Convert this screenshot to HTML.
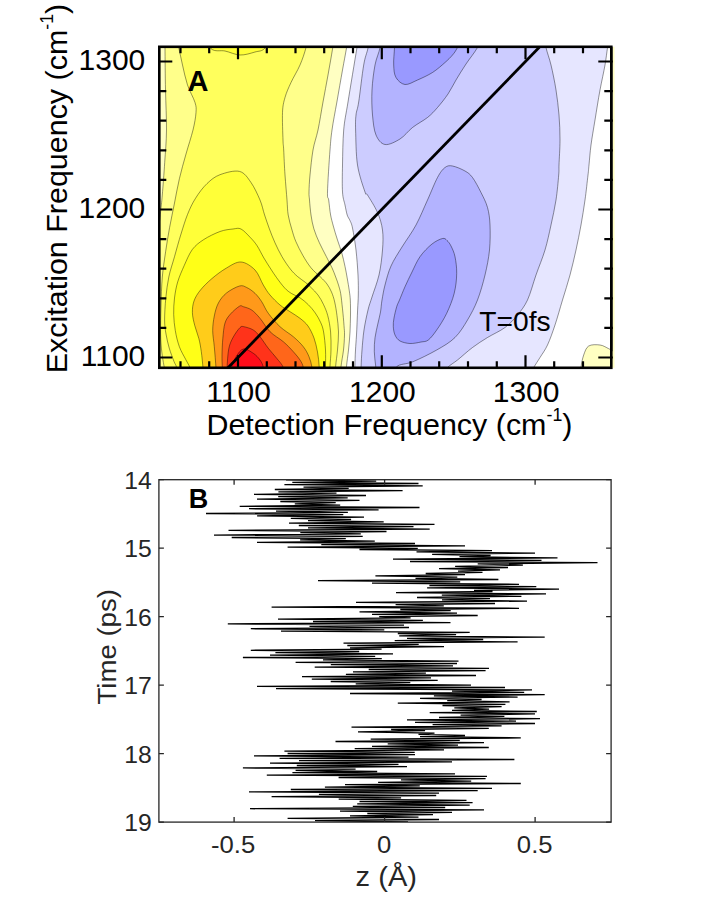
<!DOCTYPE html>
<html><head><meta charset="utf-8"><title>Figure</title>
<style>html,body{margin:0;padding:0;background:#fff}svg{display:block}</style>
</head><body>
<svg width="720" height="905" viewBox="0 0 720 905">
<defs><clipPath id="ca"><rect x="159.3" y="46.8" width="455.2" height="321"/></clipPath><clipPath id="cb"><rect x="159" y="480" width="452" height="342"/></clipPath></defs>
<rect width="720" height="905" fill="#fff"/>
<g clip-path="url(#ca)" stroke="#000" stroke-opacity="0.72" stroke-width="0.58" stroke-linejoin="round">
<rect x="150" y="40" width="470" height="335" fill="#fff" stroke="none"/>
<path d="M140 30 L140 380 L346 380 C346.1 377.8 346.1 371.7 346.5 366.7 C346.9 361.7 347.9 355.8 348.5 350 C349.1 344.2 349.7 337.8 350 332 C350.3 326.2 350.4 320.3 350.5 315 C350.6 309.7 350.5 304 350.3 300 C350.1 296 349.8 294.5 349.3 290.8 C348.8 287.1 347.9 282.1 347.2 278 C346.5 273.9 345.9 270.6 345 266.4 C344.1 262.1 342.9 256.9 341.7 252.5 C340.4 248.1 338.9 244.4 337.5 240 C336.1 235.6 334.4 230.2 333.3 226 C332.2 221.8 331.4 219.3 330.6 215 C329.8 210.7 329.2 203.8 328.7 200 C328.2 196.2 327.3 200.3 327.5 192 C327.7 183.7 329.2 160.3 330 150 C330.8 139.7 330.9 138 332 130 C333.1 122 335.1 112 336.9 102 C338.6 92 340.9 79 342.5 70 C344.1 61 345.4 54.7 346.5 48 C347.6 41.3 348.6 33 349 30 Z" fill="#FFFFC2"/>
<path d="M165 30 C165 32.9 164.9 37.5 165 47.5 C165.1 57.5 165.2 76.2 165.5 90 C165.8 103.8 166.6 117.9 166.5 130 C166.4 142.1 165.4 151.7 164.7 162.5 C164 173.3 163 186.9 162.3 195 C161.6 203.1 161.2 206 160.7 211 C160.1 216 159.8 219.3 159 225 C158.2 230.7 157.5 239.2 156 245 C154.5 250.8 151 257.5 150 260 L150 380 L340.5 380 C340.6 377.8 340.5 371.7 341 366.7 C341.5 361.7 342.9 355.3 343.5 350 C344.1 344.7 344.4 339.1 344.5 335 C344.6 330.9 344.3 330 344 325.6 C343.7 321.2 343.1 314.2 342.5 308.9 C341.9 303.6 341.4 297.6 340.7 293.6 C340 289.6 339.3 287.8 338.5 285 C337.7 282.2 336.8 279.9 335.7 277 C334.6 274.1 333.6 271.2 332 267.8 C330.4 264.4 328.5 260.9 326.4 256.7 C324.3 252.5 321.5 247.4 319.4 242.8 C317.3 238.2 315.3 233.5 313.9 228.9 C312.5 224.3 311.7 219.8 311 215 C310.3 210.2 309.8 203.8 309.5 200 C309.2 196.2 308.9 196.2 309 192 C309.1 187.8 309.3 182 310 175 C310.7 168 311.7 157.5 313 150 C314.3 142.5 316.3 138 318 130 C319.7 122 321.3 111.2 323 102 C324.7 92.8 326.4 84 328 75 C329.6 66 331.5 55.5 332.7 48 C333.9 40.5 334.6 33 335 30 Z" fill="#FFFF8A"/>
<path d="M174 30 C174.8 32.9 177.3 41.7 178.7 47.5 C180.1 53.3 181 58.8 182.5 65 C184 71.2 185.4 78.8 187.5 85 C189.6 91.2 193.6 97.9 195 102.5 C196.4 107.1 196.3 107.9 196 112.5 C195.7 117.1 194.7 123.1 193 130 C191.3 136.9 188.3 145.9 186 154 C183.7 162.1 181.3 170.5 179.4 178.7 C177.5 186.9 176.1 194.9 174.5 203 C172.9 211.1 171.1 219.4 169.6 227.5 C168.1 235.6 166.8 243.6 165.6 251.8 C164.4 260.1 163.1 268 162.3 277 C161.5 286 161.3 296.5 161 306 C160.7 315.5 160.5 326.3 160.6 334 C160.7 341.7 161.2 346.7 161.8 352 C162.4 357.3 163.2 361.3 164 366 C164.8 370.7 166.1 377.7 166.5 380 L335 380 C335.1 377.8 335.2 371.7 335.6 366.7 C336 361.7 337 355.8 337.5 350 C338 344.2 338.6 337.7 338.5 332 C338.4 326.3 337.6 320.8 337 315.8 C336.4 310.8 335.6 306 334.7 302 C333.8 298 332.8 295 331.5 292 C330.2 289 328.8 286.5 327 284 C325.2 281.5 323.2 279.7 320.5 277 C317.8 274.3 313.9 271.4 311 267.8 C308.1 264.2 305.3 259.7 302.8 255.3 C300.3 250.9 297.7 245.8 295.8 241.4 C293.9 237 293 233.3 291.7 228.9 C290.4 224.5 289 219.8 288.2 215 C287.4 210.2 287.5 206.7 287 200 C286.5 193.3 285.6 183.3 285 175 C284.4 166.7 284 155.8 283.7 150 C283.4 144.2 283.2 146.2 283 140 C282.8 133.8 282.2 119.6 282.5 112.5 C282.8 105.4 283.6 102.5 285 97.5 C286.4 92.5 288.5 87.9 291 82.5 C293.5 77.1 297.5 70.8 300 65 C302.5 59.2 304.5 53.3 306 47.5 C307.5 41.7 308.5 32.9 309 30 Z" fill="#FFFF5C"/>
<path d="M200 30 C201.8 33.1 206.8 45.2 211 48.7 C215.2 52.2 220.2 50 225 51 C229.8 52 235 54.8 240 55 C245 55.2 250.8 53.2 255 52 C259.2 50.8 261.7 51.7 265 48 C268.3 44.3 273.3 33 275 30 Z" fill="#FFFF38"/>
<path d="M178.5 380 C178.2 377.8 177.2 370.1 176.4 367 C175.7 363.9 175.2 364.7 174 361.5 C172.8 358.3 170.5 352.6 169.2 348 C167.9 343.4 166.8 338.7 166 334 C165.2 329.3 164.6 326 164.6 320 C164.6 314 165.1 305.2 165.8 298 C166.5 290.8 167.4 283.9 168.8 277 C170.2 270.1 172.5 263.9 174.5 256.7 C176.5 249.5 178.8 241 181 234 C183.2 227 185.1 220.5 187.5 214.5 C189.9 208.5 192.3 203.3 195.6 198.2 C198.8 193 202.9 187.5 207 183.6 C211.1 179.7 214.6 176.7 220 174.7 C225.4 172.7 234.3 170.1 239.5 171.4 C244.7 172.7 247.6 177.7 251 182.5 C254.4 187.3 257.7 194.6 260 200 C262.3 205.4 263 210.2 264.6 215 C266.2 219.8 267.7 224.3 269.4 228.9 C271.1 233.5 272.9 238.2 275 242.8 C277.1 247.4 279.4 252.3 282 256.7 C284.6 261.1 287.7 265.7 290.3 269 C292.9 272.3 294.9 274.2 297.5 276.5 C300.1 278.8 303.4 280.7 305.6 282.5 C307.9 284.3 308.9 285.4 311 287.5 C313.1 289.6 315.9 292.1 318 295 C320.1 297.9 322 301.2 323.6 304.7 C325.2 308.2 326.6 311.2 327.8 315.8 C329 320.4 330.1 326.3 330.6 332 C331.1 337.7 331.1 344.2 331 350 C330.9 355.8 330.2 361.7 330 366.7 C329.8 371.7 329.8 377.8 329.7 380 Z" fill="#FFFF38"/>
<path d="M193 380 C192.5 378 191.2 371.4 190 368 C188.8 364.6 187.7 363.3 185.9 359.8 C184.1 356.3 181.2 351.7 179.4 346.8 C177.6 341.9 176.2 336 175.3 330.6 C174.4 325.2 173.8 319.7 173.7 314.3 C173.6 308.9 173.8 303.4 174.5 298 C175.2 292.6 176.1 287.3 177.7 281.9 C179.3 276.5 181.8 271 184.2 265.6 C186.6 260.2 189.2 253.7 192.4 249.4 C195.7 245.1 199.1 242.6 203.7 239.6 C208.3 236.6 215.1 233.3 220 231.5 C224.9 229.7 229.5 229.4 233 229 C236.5 228.6 238.2 227.6 241 229 C243.8 230.4 247.3 234.4 250 237.2 C252.7 240 254.7 242.1 257 245.6 C259.3 249.1 261.6 254.1 263.9 258 C266.2 261.9 268.7 265.8 270.8 269 C272.9 272.2 274.2 274.3 276.5 277.5 C278.8 280.7 282.2 285.3 284.7 288 C287.2 290.7 289.1 292 291.7 293.6 C294.2 295.2 297.2 296 300 297.8 C302.8 299.6 305.8 302.2 308.3 304.7 C310.9 307.2 313.2 310 315.3 313 C317.4 316 319.4 319.6 320.8 322.8 C322.2 326 322.8 327.5 323.6 332 C324.4 336.5 325.2 344.2 325.5 350 C325.8 355.8 325.5 361.7 325.5 366.7 C325.5 371.7 325.5 377.8 325.5 380 Z" fill="#FFFF17"/>
<path d="M203.5 380 C203.4 378 203.4 372.7 203 368 C202.6 363.3 202 356.6 201.3 351.7 C200.6 346.8 200 343 198.9 338.7 C197.8 334.4 195.9 330 194.8 325.7 C193.7 321.4 192.5 316.8 192.4 312.7 C192.3 308.6 192.7 304.8 194 301 C195.3 297.2 197.5 293.7 200.5 290 C203.5 286.3 207.6 282.3 211.9 278.6 C216.2 274.9 221.7 270.8 226.5 268 C231.3 265.2 236.2 261.7 241 262 C245.8 262.3 251.3 266.2 255 270 C258.7 273.8 260.8 280.8 263.3 285 C265.8 289.2 267.2 291.7 270 295 C272.8 298.3 276.7 302.2 280 305 C283.3 307.8 286.7 309.5 290 311.7 C293.3 313.9 297 315.9 300 318.3 C303 320.7 305.7 322.7 308 326 C310.3 329.3 312.4 333.7 314 338 C315.6 342.3 316.6 347.2 317.5 352 C318.4 356.8 318.9 362 319.2 366.7 C319.5 371.4 319.4 377.8 319.5 380 Z" fill="#FFCC1A"/>
<path d="M216.5 380 C216.4 378 216.4 373.5 216 368 C215.6 362.5 214.9 353 214.3 346.8 C213.8 340.6 212.7 335.7 212.7 330.6 C212.7 325.5 213.4 320.6 214.3 316 C215.2 311.4 216.4 306.8 218.4 303 C220.4 299.2 223 295.8 226.5 293 C230 290.2 236.1 286.9 239.5 286 C242.9 285.1 244.1 286.3 246.7 287.5 C249.3 288.7 252.5 290.9 255 293.3 C257.5 295.7 259.5 298.4 261.7 301.7 C263.9 305 265.2 309.1 268.3 313.3 C271.4 317.5 275.8 322.8 280 326.7 C284.2 330.6 289.4 333.4 293.3 336.7 C297.2 340 300.7 343.4 303.3 346.7 C305.9 350 307.6 353.2 309 356.7 C310.4 360.2 311.4 363.6 312 367.5 C312.6 371.4 312.4 377.9 312.5 380 Z" fill="#FF991A"/>
<path d="M222.5 380 C222.5 378 222.4 372.2 222.3 368 C222.2 363.8 221.9 359.9 222 355 C222.1 350.1 222.3 344 222.8 338.7 C223.3 333.4 223.7 327.1 225 323 C226.3 318.9 228.1 316.8 230.5 314 C232.9 311.2 237.4 307.4 239.5 306.2 C241.6 305 241.3 306.1 243.3 306.7 C245.3 307.3 248.9 308.1 251.7 310 C254.5 311.9 256.9 314.7 260 318.3 C263.1 321.9 266.1 327.8 270 331.7 C273.9 335.6 279.4 338.4 283.3 341.7 C287.2 345 290.5 348.6 293.3 351.7 C296.1 354.8 298.3 357.4 300 360 C301.7 362.6 302.6 364.2 303.3 367.5 C304 370.8 303.9 377.9 304 380 Z" fill="#FF661A"/>
<path d="M227 380 C227 378 226.7 373.2 227 368 C227.3 362.8 227.8 353.7 228.8 348.5 C229.9 343.3 231.4 340.5 233.3 337 C235.2 333.5 238.2 329.3 240 327.6 C241.8 325.9 241.6 326.3 243.8 326.7 C246 327.1 250.6 328.3 253.3 330 C256 331.7 257.5 333.6 260 336.7 C262.5 339.8 265.5 344.7 268.3 348.3 C271.1 351.9 274.2 355.1 276.7 358.3 C279.2 361.5 281.9 363.9 283.3 367.5 C284.7 371.1 284.7 377.9 285 380 Z" fill="#FF331A"/>
<path d="M231 380 C231.1 378 230.4 371.9 231.3 368 C232.2 364.1 234.2 359.8 236.2 356.6 C238.2 353.4 240.5 349.6 243.3 349 C246.2 348.4 250.5 351.5 253.3 353.3 C256.1 355.1 258.3 357.6 260 360 C261.7 362.4 262.6 364.2 263.3 367.5 C264 370.8 263.9 377.9 264 380 Z" fill="#FF0D1A"/>
<path d="M360 30 C359.5 33 358.9 36 356.9 48 C354.9 60 350.2 88.3 348 102 C345.8 115.7 344.6 119.5 343.7 130 C342.8 140.5 342.7 154.7 342.5 165 C342.3 175.3 342.1 185.3 342.5 192 C342.9 198.7 344.2 201.2 345 205 C345.8 208.8 346.4 212.4 347.2 215 C348 217.6 349.1 218.4 350 220.6 C350.9 222.8 351.5 223.1 352.5 228 C353.5 232.9 355.1 242.2 356 250 C356.9 257.8 357.6 267.5 358 275 C358.4 282.5 358.4 289.2 358.3 295 C358.2 300.8 357.9 303.3 357.6 310 C357.3 316.7 356.9 328.3 356.5 335 C356.1 341.7 355.8 344.7 355.5 350 C355.2 355.3 355 361.7 354.9 366.7 C354.8 371.7 354.7 377.8 354.7 380 L527 380 C528.1 377.9 531.5 371.2 533.7 367.5 C535.9 363.8 537.7 361.2 540 357.5 C542.3 353.8 545 350.4 547.5 345 C550 339.6 552.5 332.5 555 325 C557.5 317.5 560 308.3 562.5 300 C565 291.7 567.8 283.3 570 275 C572.2 266.7 574.2 258.3 576 250 C577.8 241.7 579.5 233.3 581 225 C582.5 216.7 583.8 208.3 585 200 C586.2 191.7 587.3 180.8 588 175 C588.7 169.2 588.5 170 589 165 C589.5 160 590 152.5 591 145 C592 137.5 593.5 129.2 595 120 C596.5 110.8 598.3 99.2 600 90 C601.7 80.8 603.8 72.1 605 65 C606.2 57.9 606.7 53.3 607.5 47.5 C608.3 41.7 609.6 32.9 610 30 Z" fill="#E6E6FF"/>
<path d="M371 30 C370.5 33 369.2 42.2 368 48 C366.8 53.8 365.2 56 363.7 65 C362.1 74 360 93.7 358.7 102 C357.4 110.3 356.5 110.3 356 115 C355.5 119.7 355.4 121.7 355.6 130 C355.9 138.3 355.9 154.7 357.5 165 C359.1 175.3 363.3 187 365 192 C366.7 197 365.4 191.6 367.5 195 C369.6 198.4 375 206.7 377.5 212.5 C380 218.3 381.7 223.8 382.5 230 C383.3 236.2 383.1 242.5 382.5 250 C381.9 257.5 380.8 267.2 379 275 C377.2 282.8 373.8 291.2 372 297 C370.2 302.8 369.3 304.5 368 310 C366.7 315.5 365 323.3 364 330 C363 336.7 362.5 343.9 362 350 C361.5 356.1 361.3 361.7 361.1 366.7 C360.9 371.7 360.9 377.8 360.8 380 L436 380 C437.9 377.9 443.9 370.8 447.5 367.5 C451.1 364.2 453.3 363.3 457.5 360 C461.7 356.7 467.5 351.2 472.5 347.5 C477.5 343.8 482.1 340.8 487.5 337.5 C492.9 334.2 500 331.2 505 327.5 C510 323.8 513.8 319.6 517.5 315 C521.2 310.4 524.4 306.7 527.5 300 C530.6 293.3 533.1 283.3 536 275 C538.9 266.7 542.5 258.3 545 250 C547.5 241.7 549.2 233.3 551 225 C552.8 216.7 554.7 208.3 556 200 C557.3 191.7 558.2 180.8 558.7 175 C559.2 169.2 558.8 170.8 559 165 C559.2 159.2 560 148.3 560 140 C560 131.7 559.7 123.3 559 115 C558.3 106.7 557.3 98.3 556 90 C554.7 81.7 552.7 72.1 551 65 C549.3 57.9 547.3 53.3 546 47.5 C544.7 41.7 543.5 32.9 543 30 Z" fill="#CCCCFF"/>
<path d="M381 30 C380.8 32.9 381 41.7 380 47.5 C379 53.3 376.3 57.9 375 65 C373.7 72.1 372.4 81.7 372 90 C371.6 98.3 371.8 107.5 372.5 115 C373.2 122.5 373.9 130.1 376 135 C378.1 139.9 381 143.8 385 144.5 C389 145.2 395.4 141.8 400 139 C404.6 136.2 407.9 131.1 412.5 127.5 C417.1 123.9 423.3 120.8 427.5 117.5 C431.7 114.2 434.1 111.4 437.5 107.5 C440.9 103.6 444.9 98.6 448 94 C451.1 89.4 453 85 456 80 C459 75 462.4 69.4 466 64 C469.6 58.6 474.2 53.2 477.5 47.5 C480.8 41.8 484.6 32.9 486 30 Z" fill="#B3B3FF"/>
<path d="M395 30 C394.9 32.9 394.7 41.7 394.5 47.5 C394.3 53.3 393.4 60 393.7 65 C393.9 70 394.1 74.2 396 77.5 C397.9 80.8 401.4 84.1 405 84.5 C408.6 84.9 412.9 82 417.5 80 C422.1 78 427.9 75.4 432.5 72.5 C437.1 69.6 441.7 65.4 445 62.5 C448.3 59.6 450.4 57.5 452.5 55 C454.6 52.5 455.2 51.7 457.5 47.5 C459.8 43.3 464.6 32.9 466 30 Z" fill="#9999FF"/>
<path d="M452.5 166 C449.2 165.4 447.5 165.6 445 167.5 C442.5 169.4 440.4 172.1 437.5 177.5 C434.6 182.9 431.1 192.1 427.5 200 C423.9 207.9 420.2 217.2 416 225 C411.8 232.8 406.2 240.2 402 247 C397.8 253.8 393.8 259.7 391 266 C388.2 272.3 386.5 279.3 385 285 C383.5 290.7 382.8 295.5 382 300 C381.2 304.5 381.2 308 380.5 312 C379.8 316 378.7 319.7 377.8 324 C376.9 328.3 375.6 333.2 375 337.8 C374.4 342.4 374.2 347 374.3 351.7 C374.4 356.4 375.2 361.3 375.7 366 C376.1 370.7 373.9 377.7 377 380 C380.1 382.3 390.7 382.2 394 380 C397.3 377.8 393.5 369.8 396.7 366.7 C399.9 363.6 406.3 364.5 413 361.7 C419.7 358.9 429.7 354 436.7 350 C443.7 346 449.9 342.5 455 337.5 C460.1 332.5 463.8 326.2 467.5 320 C471.2 313.8 474.6 307.5 477.5 300 C480.4 292.5 483 283.3 485 275 C487 266.7 488.7 258.3 489.5 250 C490.3 241.7 490.3 232.1 490 225 C489.7 217.9 489 212.9 487.5 207.5 C486 202.1 483.5 197.5 481 192.5 C478.5 187.5 475.2 181.1 472.5 177.5 C469.8 173.9 468.3 172.9 465 171 C461.7 169.1 455.8 166.6 452.5 166 Z" fill="#B3B3FF"/>
<path d="M442.5 238.5 C440 239.1 435.8 241 432 244 C428.2 247 423.3 252 420 256.7 C416.7 261.4 414.5 267 412 272 C409.5 277 407.1 282 405 286.7 C402.9 291.4 400.9 296.7 399.5 300 C398.1 303.3 397.6 303.7 396.7 306.7 C395.8 309.7 394.6 314.7 394 318 C393.4 321.3 393.1 323.9 393.3 326.7 C393.5 329.5 393.9 332.6 395 335 C396.1 337.4 397.5 339.6 400 341 C402.5 342.4 406.5 343.3 410 343.5 C413.5 343.7 417.9 342.6 421 342 C424.1 341.4 425.7 342 428.3 340 C430.9 338 433.6 334.4 436.7 330 C439.8 325.6 443.8 319.4 446.7 313.3 C449.6 307.2 452.5 300 454.2 293.3 C455.9 286.6 456.6 279.4 456.7 273.3 C456.8 267.2 455.9 261.2 455 256.7 C454.1 252.1 452.3 248.7 451 246 C449.7 243.3 448.4 241.8 447 240.5 C445.6 239.2 445 237.9 442.5 238.5 Z" fill="#9999FF"/>
<path d="M581 380 C581 377.9 580.5 371.7 581 367.5 C581.5 363.3 582.4 358.6 583.7 355 C585 351.4 586 347.7 588.7 346 C591.4 344.3 596.7 344.6 600 345 C603.3 345.4 606.6 347.7 608.7 348.7 C610.8 349.7 611.8 350.6 612.4 351 L612.5 345 L612.5 30 L625 30 L625 380 Z" fill="#FFFFC2"/>
</g>
<line x1="223.6" y1="372.3" x2="554.2" y2="31.9" stroke="#000" stroke-width="2.8" clip-path="url(#ca)"/>
<rect x="159.3" y="46.8" width="452" height="321" fill="none" stroke="#000" stroke-width="2.6"/>
<path d="M180.5 46.8 v6.5 M180.5 367.8 v-6.5 M209.2 46.8 v6.5 M209.2 367.8 v-6.5 M238 46.8 v12.5 M238 367.8 v-12.5 M266.8 46.8 v6.5 M266.8 367.8 v-6.5 M295.5 46.8 v6.5 M295.5 367.8 v-6.5 M324.2 46.8 v6.5 M324.2 367.8 v-6.5 M353 46.8 v6.5 M353 367.8 v-6.5 M381.8 46.8 v12.5 M381.8 367.8 v-12.5 M410.5 46.8 v6.5 M410.5 367.8 v-6.5 M439.2 46.8 v6.5 M439.2 367.8 v-6.5 M468 46.8 v6.5 M468 367.8 v-6.5 M496.8 46.8 v6.5 M496.8 367.8 v-6.5 M525.5 46.8 v12.5 M525.5 367.8 v-12.5 M554.2 46.8 v6.5 M554.2 367.8 v-6.5 M583 46.8 v6.5 M583 367.8 v-6.5 M159.3 357.5 h13 M612.8 357.5 h-14.5 M159.3 327.9 h7 M612.8 327.9 h-8.5 M159.3 298.3 h7 M612.8 298.3 h-8.5 M159.3 268.7 h7 M612.8 268.7 h-8.5 M159.3 239.1 h7 M612.8 239.1 h-8.5 M159.3 209.5 h13 M612.8 209.5 h-14.5 M159.3 179.9 h7 M612.8 179.9 h-8.5 M159.3 150.3 h7 M612.8 150.3 h-8.5 M159.3 120.7 h7 M612.8 120.7 h-8.5 M159.3 91.1 h7 M612.8 91.1 h-8.5 M159.3 61.5 h13 M612.8 61.5 h-14.5" stroke="#000" stroke-width="2.2" fill="none"/>
<text transform="translate(238.6 402.3)" font-size="30" text-anchor="middle" fill="#000" font-family="Liberation Sans, sans-serif">1100</text>
<text transform="translate(145.3 365.5)" font-size="30" text-anchor="end" fill="#000" font-family="Liberation Sans, sans-serif">1100</text>
<text transform="translate(382.4 402.3)" font-size="30" text-anchor="middle" fill="#000" font-family="Liberation Sans, sans-serif">1200</text>
<text transform="translate(145.3 217.5)" font-size="30" text-anchor="end" fill="#000" font-family="Liberation Sans, sans-serif">1200</text>
<text transform="translate(526.1 402.3)" font-size="30" text-anchor="middle" fill="#000" font-family="Liberation Sans, sans-serif">1300</text>
<text transform="translate(145.3 69.5)" font-size="30" text-anchor="end" fill="#000" font-family="Liberation Sans, sans-serif">1300</text>
<text transform="translate(389.4 434.8) scale(1.0150 1)" font-size="30" text-anchor="middle" fill="#000" font-family="Liberation Sans, sans-serif">Detection Frequency (cm<tspan font-size="17.5" dy="-13.5">-1</tspan><tspan dy="13.5">)</tspan></text>
<text transform="translate(66.6 188.5) rotate(-90) scale(1.0150 1)" font-size="30" text-anchor="middle" fill="#000" font-family="Liberation Sans, sans-serif">Excitation Frequency (cm<tspan font-size="17.5" dy="-13.5">-1</tspan><tspan dy="13.5">)</tspan></text>
<text transform="translate(187.6 91.1)" font-size="29" text-anchor="start" fill="#000" font-weight="bold" font-family="Liberation Sans, sans-serif">A</text>
<text transform="translate(479.3 330.6)" font-size="28.2" text-anchor="start" fill="#000" font-family="Liberation Sans, sans-serif">T=0fs</text>
<path d="M286.0 479.90 L376.2 481.10 L292.3 482.30 L418.5 483.50 L284.4 484.70 L422.7 485.90 L303.5 487.10 L348.7 488.30 L274.8 489.50 L402.6 490.70 L278.4 491.90 L336.5 493.10 L254.0 494.30 L366.0 495.50 L278.2 496.70 L347.7 497.90 L257.0 499.10 L359.5 500.30 L280.3 501.50 L335.7 502.70 L294.8 503.90 L340.2 505.10 L239.7 506.30 L419.5 507.50 L249.0 508.70 L378.6 509.90 L276.0 511.10 L347.9 512.30 L206.0 513.50 L343.3 514.70 L257.1 515.90 L364.0 517.10 L290.8 518.30 L351.1 519.50 L308.0 520.70 L383.7 521.90 L289.0 523.10 L434.5 524.30 L298.8 525.50 L413.5 526.70 L308.0 527.90 L429.7 529.10 L228.5 530.30 L386.5 531.50 L300.3 532.70 L360.8 533.90 L214.0 535.10 L362.7 536.30 L231.7 537.50 L345.8 538.70 L300.1 539.90 L374.8 541.10 L257.0 542.30 L415.0 543.50 L321.3 544.70 L465.0 545.90 L287.6 547.10 L417.8 548.30 L359.5 549.50 L492.0 550.70 L416.5 551.90 L535.0 553.10 L432.1 554.30 L490.6 555.50 L459.5 556.70 L557.5 557.90 L393.0 559.10 L541.5 560.30 L410.0 561.50 L597.5 562.70 L477.7 563.90 L522.9 565.10 L455.1 566.30 L508.0 567.50 L439.0 568.70 L500.0 569.90 L458.0 571.10 L482.5 572.30 L425.7 573.50 L465.0 574.70 L375.4 575.90 L457.3 577.10 L415.5 578.30 L498.4 579.50 L318.0 580.70 L460.2 581.90 L372.0 583.10 L519.0 584.30 L429.4 585.50 L536.3 586.70 L427.1 587.90 L559.0 589.10 L474.0 590.30 L492.5 591.50 L396.0 592.70 L546.0 593.90 L441.8 595.10 L521.4 596.30 L417.0 597.50 L490.0 598.70 L442.0 599.90 L527.0 601.10 L356.0 602.30 L495.0 603.50 L395.6 604.70 L443.8 605.90 L271.6 607.10 L519.0 608.30 L400.3 609.50 L450.7 610.70 L359.5 611.90 L457.0 613.10 L372.0 614.30 L477.7 615.50 L379.2 616.70 L410.6 617.90 L278.0 619.10 L422.9 620.30 L313.0 621.50 L450.5 622.70 L227.8 623.90 L404.0 625.10 L309.5 626.30 L409.0 627.50 L250.8 628.70 L384.3 629.90 L281.0 631.10 L469.7 632.30 L397.8 633.50 L456.1 634.70 L399.2 635.90 L544.7 637.10 L407.0 638.30 L483.2 639.50 L394.7 640.70 L517.6 641.90 L343.5 643.10 L418.7 644.30 L347.3 645.50 L444.0 646.70 L350.0 647.90 L381.6 649.10 L250.8 650.30 L359.2 651.50 L275.4 652.70 L393.0 653.90 L270.0 655.10 L375.2 656.30 L242.9 657.50 L381.8 658.70 L323.0 659.90 L458.5 661.10 L295.6 662.30 L457.0 663.50 L330.8 664.70 L453.0 665.90 L314.7 667.10 L489.0 668.30 L368.7 669.50 L485.6 670.70 L353.0 671.90 L425.9 673.10 L345.9 674.30 L476.0 675.50 L302.0 676.70 L431.0 677.90 L311.8 679.10 L437.7 680.30 L330.7 681.50 L410.3 682.70 L355.7 683.90 L471.0 685.10 L257.0 686.30 L505.0 687.50 L276.0 688.70 L532.0 689.90 L452.0 691.10 L524.2 692.30 L350.0 693.50 L544.7 694.70 L433.9 695.90 L517.6 697.10 L420.0 698.30 L481.6 699.50 L447.2 700.70 L509.6 701.90 L397.8 703.10 L505.4 704.30 L442.5 705.50 L501.6 706.70 L454.3 707.90 L489.1 709.10 L452.0 710.30 L536.8 711.50 L429.7 712.70 L535.0 713.90 L460.6 715.10 L504.4 716.30 L439.0 717.50 L540.0 718.70 L407.0 719.90 L516.0 721.10 L415.0 722.30 L535.0 723.50 L432.6 724.70 L501.6 725.90 L351.5 727.10 L488.8 728.30 L391.1 729.50 L425.1 730.70 L358.0 731.90 L434.5 733.10 L418.5 734.30 L465.0 735.50 L420.0 736.70 L520.8 737.90 L370.7 739.10 L459.8 740.30 L335.5 741.50 L484.0 742.70 L387.7 743.90 L458.0 745.10 L372.0 746.30 L488.8 747.50 L354.7 748.70 L444.0 749.90 L284.4 751.10 L414.7 752.30 L287.6 753.50 L415.0 754.70 L254.0 755.90 L408.5 757.10 L279.6 758.30 L514.4 759.50 L299.0 760.70 L452.0 761.90 L270.0 763.10 L398.5 764.30 L296.8 765.50 L407.0 766.70 L242.9 767.90 L355.6 769.10 L295.6 770.30 L377.2 771.50 L292.4 772.70 L455.0 773.90 L266.8 775.10 L487.0 776.30 L338.6 777.50 L485.6 778.70 L401.0 779.90 L471.2 781.10 L378.1 782.30 L520.8 783.50 L345.0 784.70 L419.8 785.90 L324.9 787.10 L492.0 788.30 L290.8 789.50 L477.7 790.70 L249.0 791.90 L439.0 793.10 L318.9 794.30 L436.2 795.50 L271.6 796.70 L401.1 797.90 L338.7 799.10 L466.5 800.30 L359.5 801.50 L472.6 802.70 L357.2 803.90 L469.7 805.10 L352.8 806.30 L445.2 807.50 L250.0 808.70 L484.0 809.90 L340.0 811.10 L452.0 812.30 L367.3 813.50 L433.0 814.70 L350.0 815.90 L418.5 817.10 L287.6 818.30 L439.0 819.50 L315.0 820.70 L408.0 821.90" fill="none" stroke="#000" stroke-width="1.3" stroke-linejoin="miter" clip-path="url(#cb)"/>
<rect x="158.9" y="479.7" width="452.2" height="342.4" fill="none" stroke="#262626" stroke-width="1.3"/>
<path d="M234.1 479.7 v5 M234.1 822.1 v-5 M384.6 479.7 v5 M384.6 822.1 v-5 M535.1 479.7 v5 M535.1 822.1 v-5 M158.9 479.7 h5 M611.1 479.7 h-5 M158.9 548.2 h5 M611.1 548.2 h-5 M158.9 616.7 h5 M611.1 616.7 h-5 M158.9 685.1 h5 M611.1 685.1 h-5 M158.9 753.6 h5 M611.1 753.6 h-5 M158.9 822.1 h5 M611.1 822.1 h-5" stroke="#262626" stroke-width="1.3" fill="none"/>
<text transform="translate(233.1 852.6) scale(1.0700 1)" font-size="24" text-anchor="middle" fill="#262626" font-family="Liberation Sans, sans-serif">-0.5</text>
<text transform="translate(384.2 852.6) scale(1.0700 1)" font-size="24" text-anchor="middle" fill="#262626" font-family="Liberation Sans, sans-serif">0</text>
<text transform="translate(534.7 852.6) scale(1.0700 1)" font-size="24" text-anchor="middle" fill="#262626" font-family="Liberation Sans, sans-serif">0.5</text>
<text transform="translate(151.8 488.6) scale(1.0300 1)" font-size="24" text-anchor="end" fill="#262626" font-family="Liberation Sans, sans-serif">14</text>
<text transform="translate(151.8 557.1) scale(1.0300 1)" font-size="24" text-anchor="end" fill="#262626" font-family="Liberation Sans, sans-serif">15</text>
<text transform="translate(151.8 625.6) scale(1.0300 1)" font-size="24" text-anchor="end" fill="#262626" font-family="Liberation Sans, sans-serif">16</text>
<text transform="translate(151.8 694) scale(1.0300 1)" font-size="24" text-anchor="end" fill="#262626" font-family="Liberation Sans, sans-serif">17</text>
<text transform="translate(151.8 762.5) scale(1.0300 1)" font-size="24" text-anchor="end" fill="#262626" font-family="Liberation Sans, sans-serif">18</text>
<text transform="translate(151.8 831) scale(1.0300 1)" font-size="24" text-anchor="end" fill="#262626" font-family="Liberation Sans, sans-serif">19</text>
<text transform="translate(386.3 886.1) scale(1.0700 1)" font-size="27.2" text-anchor="middle" fill="#262626" font-family="Liberation Sans, sans-serif">z (Å)</text>
<text transform="translate(116.2 646.8) rotate(-90) scale(1.0400 1)" font-size="26.5" text-anchor="middle" fill="#262626" font-family="Liberation Sans, sans-serif">Time (ps)</text>
<text transform="translate(188.8 508.3)" font-size="27" text-anchor="start" fill="#000" font-weight="bold" font-family="Liberation Sans, sans-serif">B</text>
</svg>
</body></html>
